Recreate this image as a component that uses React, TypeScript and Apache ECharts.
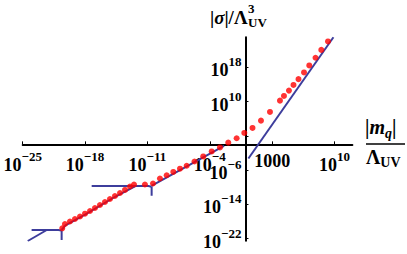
import React, { useEffect, useRef } from 'react';
import * as echarts from 'echarts';

// All values are log10 exponents (axes are drawn on exponents, labels show 10^k)
const X_MIN = -25;
const X_MAX = 12;
const Y_MIN = -22.5;
const Y_MAX = 25;
const X_TICKS = [-25, -18, -11, -4, 3, 10];
const X_TICK_LABELS = ['10^\u221225', '10^\u221218', '10^\u221211', '10^\u22124', '1000', '10^10'];
const Y_TICKS = [-22, -14, -6, 2, 10, 18];
const Y_TICK_LABELS = ['10^\u221222', '10^\u221214', '10^\u22126', '', '10^10', '10^18'];

// red dotted series (log10 |m_q|, log10 |sigma|)
const redX = [
  -20.56, -20.26, -19.7, -19.14, -18.57, -18.01, -17.45, -16.89, -16.33, -15.77, -15.21, -14.65,
  -14.08, -13.52, -12.96, -12.51, -11.28, -10.38, -9.6, -8.84, -8.1, -7.35, -6.6, -5.72, -4.74,
  -3.79, -2.86, -1.93, -0.99, -0.13, 0.79, 1.74, 2.75, 3.87, 4.32, 4.88, 5.39, 5.95, 6.57, 7.16,
  7.86, 8.51, 9.26,
];
const redY = [
  -19.6, -18.6, -18.01, -17.43, -16.85, -16.19, -15.56, -14.86, -14.16, -13.46, -12.76, -12.06,
  -11.36, -10.65, -9.84, -9.37, -9.37, -9.14, -7.97, -7.22, -6.45, -5.68, -5.0, -4.0, -2.83,
  -1.66, -0.72, 0.4, 1.43, 2.66, 3.83, 5.54, 7.57, 10.21, 11.31, 12.55, 13.88, 15.23, 16.8, 18.43,
  20.23, 22.06, 24.04,
];

// blue branches
const blueUpperX = [0.33, 9.87];
const blueUpperY = [-3.3, 25];
const blueMidX = [-10.53, -10.2, -2.4];
const blueMidY = [-9.72, -9.3, -0.35];
const blueMidHorizX = [-17.26, -10.9, -10.53];
const blueMidHorizY = [-9.72, -9.72, -9.9];
const blueMidVertX = [-10.53, -10.53];
const blueMidVertY = [-9.9, -12.0];
const blueLowX = [-20.63, -20.2, -18, -15, -12.3];
const blueLowY = [-20.0, -18.9, -16.4, -12.7, -9.72];
const blueLowHorizX = [-24.0, -21.0, -20.63];
const blueLowHorizY = [-20.0, -20.0, -20.15];
const blueLowVertX = [-20.63, -20.63];
const blueLowVertY = [-20.15, -22.34];
const blueLowDiagX = [-24.43, -22.3];
const blueLowDiagY = [-22.57, -20.0];

const FONT = 'Liberation Serif';
const BLUE = '#3d3d9c';

const GRID_LEFT = 22.7;
const GRID_TOP = 37.3;
const GRID_W = 329.7;
const GRID_H = 203.4;

const zip = (a: number[], b: number[]) => a.map((v, i) => [v, b[i]]);

const toRich = (s: string) => {
  if (!s) return '';
  const i = s.indexOf('^');
  if (i < 0) return `{p|${s}}`;
  return `{b|${s.slice(0, i)}}{s|${s.slice(i + 1)}}`;
};

const richStyles = {
  b: { fontSize: 18, fontWeight: 'bold', fontFamily: FONT, color: '#000', verticalAlign: 'bottom', lineHeight: 24 },
  s: { fontSize: 13, fontWeight: 'bold', fontFamily: FONT, color: '#000', verticalAlign: 'top', lineHeight: 24 },
  p: { fontSize: 18, fontWeight: 'bold', fontFamily: FONT, color: '#000', lineHeight: 22 },
};

const lineSeries = (x: number[], y: number[]) => ({
  type: 'line',
  data: zip(x, y),
  showSymbol: false,
  symbol: 'none',
  lineStyle: { color: BLUE, width: 2 },
  itemStyle: { color: BLUE },
  z: 2,
});

export default function App() {
  const ref = useRef<HTMLDivElement>(null);
  useEffect(() => {
    if (!ref.current) return;
    const chart = echarts.init(ref.current, null, { renderer: 'svg' });
    // place the axes where the other axis is at exponent 0 (value 1)
    const zeroX = GRID_LEFT + ((0 - X_MIN) / (X_MAX - X_MIN)) * GRID_W;
    const zeroY = GRID_TOP + ((Y_MAX - 0) / (Y_MAX - Y_MIN)) * GRID_H;
    const labelBase = { fontFamily: FONT, fontWeight: 'bold', fontSize: 18, color: '#000' };
    const option: any = {
      animation: false,
      backgroundColor: '#fff',
      grid: { left: GRID_LEFT, top: GRID_TOP, width: GRID_W, height: GRID_H, containLabel: false, outerBoundsMode: 'none' },
      xAxis: {
        type: 'value',
        min: X_MIN,
        max: X_MAX,
        position: 'bottom',
        offset: -(GRID_TOP + GRID_H - zeroY),
        axisLine: { onZero: false, lineStyle: { color: '#000', width: 2 } },
        axisTick: { inside: true, length: 3, customValues: X_TICKS, lineStyle: { color: '#000', width: 1 } },
        axisLabel: {
          ...labelBase,
          customValues: X_TICKS,
          margin: 6,
          formatter: (v: number) => toRich(X_TICK_LABELS[X_TICKS.indexOf(Math.round(v))] ?? ''),
          rich: richStyles,
        },
        splitLine: { show: false },
      },
      yAxis: {
        type: 'value',
        min: Y_MIN,
        max: Y_MAX,
        position: 'left',
        offset: -(zeroX - GRID_LEFT),
        axisLine: { onZero: false, lineStyle: { color: '#000', width: 2 } },
        axisTick: { inside: true, length: 3, customValues: Y_TICKS, lineStyle: { color: '#000', width: 1 } },
        axisLabel: {
          ...labelBase,
          customValues: Y_TICKS,
          margin: 4,
          formatter: (v: number) => toRich(Y_TICK_LABELS[Y_TICKS.indexOf(Math.round(v))] ?? ''),
          rich: richStyles,
        },
        splitLine: { show: false },
      },
      series: [
        lineSeries(blueUpperX, blueUpperY),
        lineSeries(blueMidX, blueMidY),
        lineSeries(blueMidHorizX, blueMidHorizY),
        lineSeries(blueMidVertX, blueMidVertY),
        lineSeries(blueLowX, blueLowY),
        lineSeries(blueLowHorizX, blueLowHorizY),
        lineSeries(blueLowVertX, blueLowVertY),
        lineSeries(blueLowDiagX, blueLowDiagY),
        {
          type: 'scatter',
          data: zip(redX, redY),
          symbol: 'circle',
          symbolSize: 6,
          itemStyle: { color: '#ff0000' },
          z: 3,
        },
      ],
      graphic: [
        {
          type: 'text',
          left: 210,
          top: 8,
          style: {
            text: '{n||}{i|\u03c3}{n||/\u039b}',
            rich: {
              n: { fontSize: 19, fontWeight: 'bold', fontFamily: FONT, fill: '#000' },
              i: { fontSize: 19, fontWeight: 'bold', fontStyle: 'italic', fontFamily: FONT, fill: '#000' },
            },
          },
        },
        {
          type: 'text',
          left: 248,
          top: 2,
          style: { text: '3', fontSize: 13, fontWeight: 'bold', fontFamily: FONT, fill: '#000' },
        },
        {
          type: 'text',
          left: 248,
          top: 16,
          style: { text: 'UV', fontSize: 13, fontWeight: 'bold', fontFamily: FONT, fill: '#000' },
        },
        {
          type: 'text',
          left: 365,
          top: 117,
          style: {
            text: '{n||}{i|m}{q|q}{n||}',
            rich: {
              n: { fontSize: 20, fontWeight: 'bold', fontFamily: FONT, fill: '#000', lineHeight: 26 },
              i: { fontSize: 20, fontWeight: 'bold', fontStyle: 'italic', fontFamily: FONT, fill: '#000', lineHeight: 26 },
              q: { fontSize: 14, fontWeight: 'bold', fontStyle: 'italic', fontFamily: FONT, fill: '#000', verticalAlign: 'bottom', lineHeight: 26 },
            },
          },
        },
        {
          type: 'line',
          shape: { x1: 366, y1: 144, x2: 405, y2: 144 },
          style: { stroke: '#000', lineWidth: 1.5 },
        },
        {
          type: 'text',
          left: 366,
          top: 147,
          style: {
            text: '{n|\u039b}{u|UV}',
            rich: {
              n: { fontSize: 20, fontWeight: 'bold', fontFamily: FONT, fill: '#000', lineHeight: 24 },
              u: { fontSize: 14, fontWeight: 'bold', fontFamily: FONT, fill: '#000', verticalAlign: 'bottom', lineHeight: 24 },
            },
          },
        },
      ],
    };
    chart.setOption(option);
    return () => chart.dispose();
  }, []);
  return (
    <div
      ref={ref}
      style={{ position: 'fixed', left: 0, top: 0, width: 407, height: 254, background: '#fff' }}
    />
  );
}
